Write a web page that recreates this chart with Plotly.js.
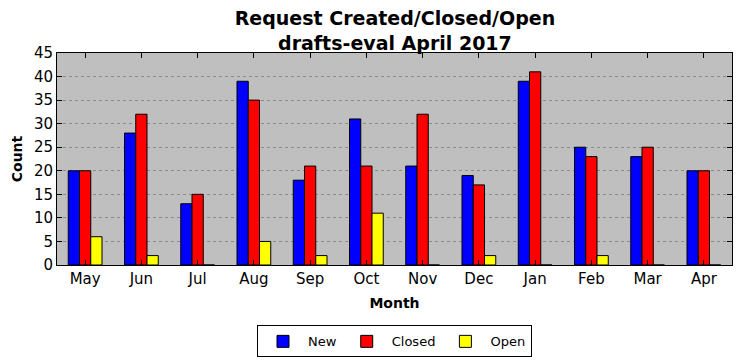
<!DOCTYPE html>
<html>
<head>
<meta charset="utf-8">
<script src="https://cdn.plot.ly/plotly-3.0.1.min.js"></script>
<style>html,body{margin:0;padding:0;background:#fff;}#chart{width:741px;height:361px;}</style>
</head>
<body>
<div id="chart"></div>
<script>
const months = ["May","Jun","Jul","Aug","Sep","Oct","Nov","Dec","Jan","Feb","Mar","Apr"];
const newCounts = [20,28,13,39,18,31,21,19,39,25,23,20];
const closedCounts = [20,32,15,35,21,21,32,17,41,23,25,20];
const openCounts = [6,2,0,5,2,11,0,2,0,2,0,0];
const yTicks = [0,5,10,15,20,25,30,35,40,45];

const mk = (name, y, color) => ({
  type: "bar", name: name, x: months, y: y,
  marker: {color: color, line: {color: "#000", width: 1}}
});

const data = [
  mk("New", newCounts, "#0000ff"),
  mk("Closed", closedCounts, "#ff0000"),
  mk("Open", openCounts, "#ffff00")
];

const font = {family: "DejaVu Sans, sans-serif", color: "#000"};
const layout = {
  width: 741, height: 361,
  margin: {l: 57, r: 9, t: 53, b: 96, autoexpand: false},
  paper_bgcolor: "#fff",
  plot_bgcolor: "#bfbfbf",
  font: Object.assign({size: 14}, font),
  title: {text: "<b>Request Created/Closed/Open<br>drafts-eval April 2017</b>", font: Object.assign({size: 19}, font), x: 0.533, xanchor: "center", yref: "container", y: 0.93, yanchor: "middle"},
  barmode: "group", bargap: 0.4, bargroupgap: 0,
  xaxis: {
    title: {text: "<b>Month</b>", font: Object.assign({size: 14}, font), standoff: 11},
    type: "category", range: [-0.5, 11.5], automargin: false,
    ticks: "inside", ticklen: 5, tickcolor: "#000", mirror: "ticks",
    showline: true, linecolor: "#000", linewidth: 1,
    showgrid: false, tickfont: Object.assign({size: 15}, font)
  },
  yaxis: {
    title: {text: "<b>Count</b>", font: Object.assign({size: 14}, font), standoff: 8},
    range: [0, 45], tickvals: yTicks, ticktext: yTicks.map(String), automargin: false,
    ticks: "inside", ticklen: 5, tickcolor: "#000", mirror: "ticks",
    showline: true, linecolor: "#000", linewidth: 1,
    showgrid: true, gridcolor: "#8a8a8a", griddash: "dot", gridwidth: 1,
    zeroline: false, tickfont: Object.assign({size: 15}, font)
  },
  legend: {
    orientation: "h", x: 0.5, xanchor: "center", y: -0.285, yanchor: "top",
    bordercolor: "#000", borderwidth: 1, bgcolor: "#fff", itemwidth: 40,
    font: Object.assign({size: 13}, font)
  },
  showlegend: true
};

Plotly.newPlot("chart", data, layout, {displayModeBar: false, staticPlot: true});
</script>
</body>
</html>
